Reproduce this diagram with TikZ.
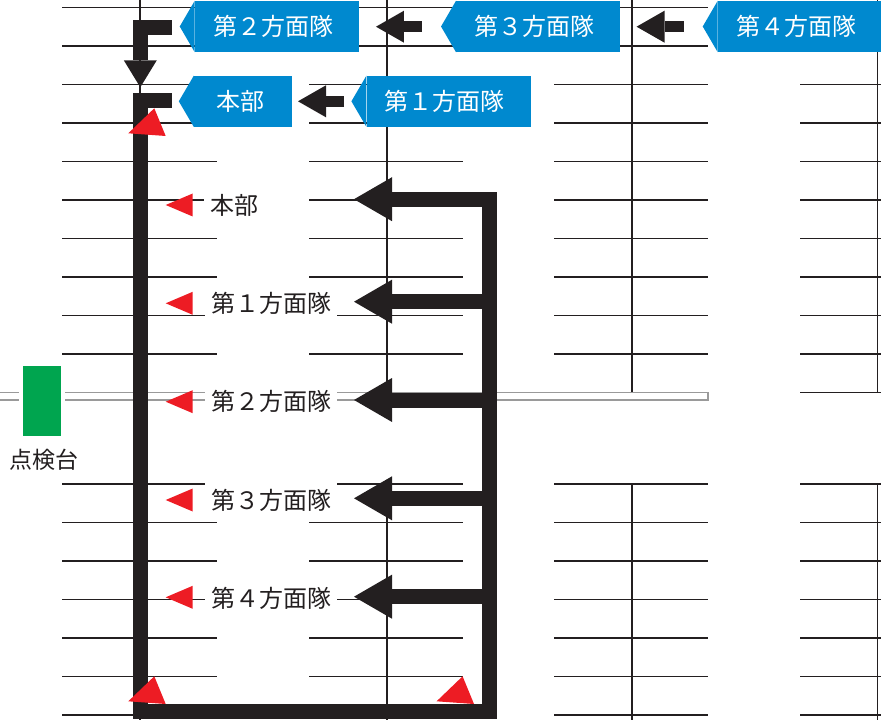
\documentclass[tikz,border=0pt]{standalone}
\usepackage{fontspec}
\newfontfamily\jp{Noto Sans CJK JP}
\usetikzlibrary{arrows.meta,calc}
\definecolor{blk}{HTML}{231F20}
\definecolor{bluec}{HTML}{0089CF}
\definecolor{redc}{HTML}{ED1C24}
\definecolor{greenc}{HTML}{00A54F}
\definecolor{roadc}{HTML}{9A9A9A}
\begin{document}
\begin{tikzpicture}[x=0.75pt,y=-0.75pt,
  grid/.style={draw=blk,line width=1.1pt},
  road/.style={draw=roadc,line width=0.9pt},
  blab/.style={fill=bluec,text=white,inner sep=0pt,minimum height=38.25pt,font=\jp\fontsize{18pt}{20pt}\selectfont},
  tlab/.style={fill=white,text=blk,inner xsep=4.5pt,inner ysep=0pt,minimum height=27pt,font=\jp\fontsize{18pt}{20pt}\selectfont},
  bigarrow/.style={draw=blk,line width=11.25pt,line join=miter,-{Triangle[length=28.5pt,width=33pt,line width=0pt]}},
  smallarrow/.style={draw=blk,line width=8.25pt,-{Triangle[length=21pt,width=24pt,line width=0pt]}},
  downarrow/.style={draw=blk,line width=11pt,line join=miter,-{Triangle[length=20.25pt,width=24.75pt,line width=0pt]}},
  redmark/.style={fill=redc}]
\useasboundingbox (0,0) rectangle (881,720);
\clip (0,0) rectangle (881,720);
% parking grid
\foreach \y in {7.5,46.2} {\draw[grid] (62,\y) -- (708,\y); \draw[grid] (800,\y) -- (881,\y);}
\foreach \k in {2,...,9} {
  \pgfmathsetmacro\y{7.5+38.5*\k}
  \draw[grid] (62,\y) -- (217,\y);
  \draw[grid] (309,\y) -- (463,\y);
  \draw[grid] (554,\y) -- (708,\y);
  \draw[grid] (800,\y) -- (881,\y);
}
\foreach \k in {0,...,6} {
  \pgfmathsetmacro\y{484+38.5*\k}
  \draw[grid] (62,\y) -- (217,\y);
  \draw[grid] (309,\y) -- (463,\y);
  \draw[grid] (554,\y) -- (708,\y);
  \draw[grid] (800,\y) -- (881,\y);
}
\draw[grid] (800,392.5) -- (881,392.5);
\draw[grid] (140,0) -- (140,720);
\foreach \x in {387,632,877.5} {\draw[grid] (\x,0) -- (\x,392.3); \draw[grid] (\x,484) -- (\x,720);}
% road
\draw[road] (-5,392.5) rectangle (708,400);
% inspection stand
\node[fill=greenc,draw=white,line width=3pt,inner sep=0pt,minimum width=31.3pt,minimum height=55.5pt] (stand) at (42.2,400.7) {};
\node[text=blk,inner sep=0pt,font=\jp\fontsize{17.25pt}{19pt}\selectfont] (standlbl) at (43.7,460) {点検台};
% unit labels in the lot
\node[tlab] (t0) at (234,205) {本部};
\node[tlab] (t1) at (271,303) {第１方面隊};
\node[tlab] (t2) at (271,401.7) {第２方面隊};
\node[tlab] (t3) at (271,500) {第３方面隊};
\node[tlab] (t4) at (271,598) {第４方面隊};
% blue labels
\node[blab,minimum width=123pt] (l2) at (277,26.5) {\hspace*{-6pt}第２方面隊};
\node[blab,minimum width=123pt] (l3) at (538.3,26.5) {\hspace*{-6pt}第３方面隊};
\node[blab,minimum width=123pt] (l4) at (800,26.5) {\hspace*{-6pt}第４方面隊};
\node[blab,minimum width=73.7pt,minimum height=38pt] (l0) at (243.2,101.3) {\hspace*{-4.5pt}本部};
\node[blab,minimum width=123.2pt,minimum height=38pt] (l1) at (448.8,101.3) {\hspace*{-6pt}第１方面隊};
\foreach \n in {l0,l1,l2,l3,l4} {\fill[bluec] (\n.north west) -- ($(\n.west)+(-15,0)$) -- (\n.south west) -- cycle;}
% small arrows between labels
\draw[smallarrow] ($(l3.west)+(-34.3,0.2)$) -- ($(l2.east)+(16.7,0.2)$);
\draw[smallarrow] ($(l4.west)+(-34,0.2)$) -- ($(l3.east)+(16,0.2)$);
\draw[smallarrow] ($(l1.west)+(-22.4,0)$) -- ($(l0.east)+(5.4,0)$);
% route from 2nd group down to HQ
\coordinate (s2) at (171.7,27.5);
\coordinate (d2) at (140.3,87.3);
\draw[downarrow] (s2) -- (d2 |- s2) -- (d2);
% main route
\coordinate (s0) at (171.7,100.2);
\coordinate (bl) at (140.3,711.8);
\coordinate (br) at (489.2,711.8);
\coordinate (a0) at (354,199.2);
\coordinate (a1) at (354,301.7);
\coordinate (a2) at (354,400);
\coordinate (a3) at (354,498.3);
\coordinate (a4) at (354,596.7);
\draw[bigarrow] (s0) -- (bl |- s0) -- (bl) -- (br) -- (br |- a0) -- (a0);
\foreach \a in {a1,a2,a3,a4} {\draw[bigarrow] (br |- \a) -- (\a);}
% red markers
\foreach \y in {205,303.3,401.7,500,597.3} {\fill[redmark] (165.7,\y) -- (192.7,\y-11.5) -- (192.7,\y+11.5) -- cycle;}
\foreach \dx/\dy in {0/0,0/568,308.3/568} {\fill[redmark] (128.3+\dx,133.3+\dy) -- (165.7+\dx,136+\dy) -- (154.3+\dx,108.3+\dy) -- cycle;}
\end{tikzpicture}
\end{document}
